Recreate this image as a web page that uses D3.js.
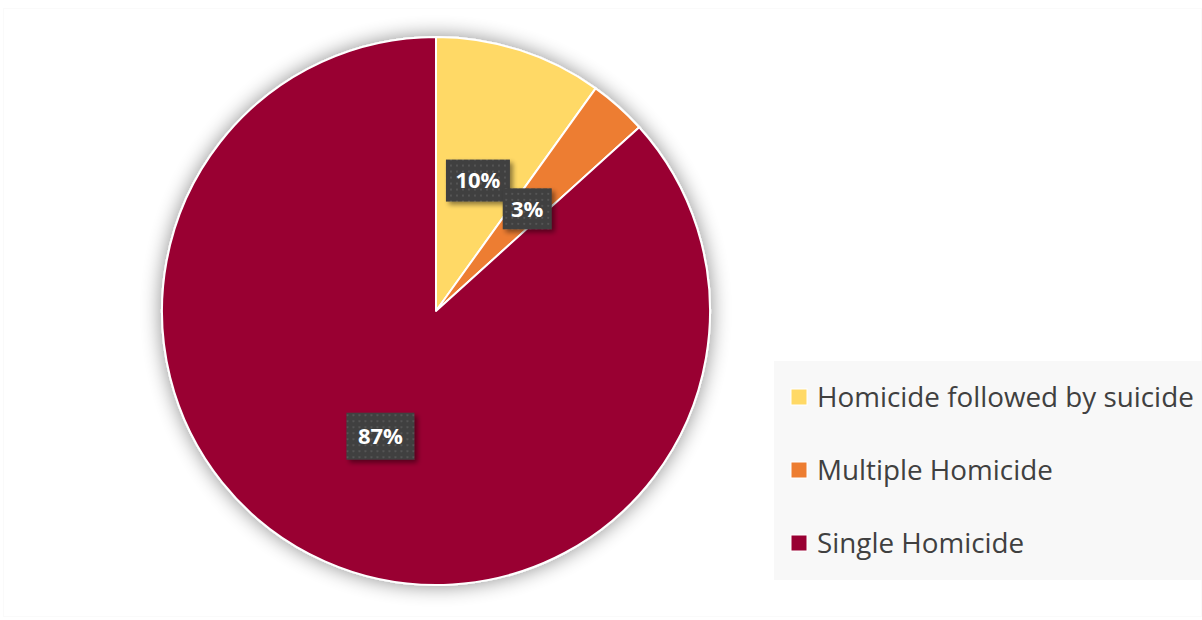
<!DOCTYPE html>
<html>
<head>
<meta charset="utf-8">
<script src="https://cdn.jsdelivr.net/npm/d3@7"></script>
<style>
  html, body { margin: 0; padding: 0; background: #ffffff; }
  svg { display: block; }
</style>
</head>
<body>
<svg id="chart" width="1202" height="620"></svg>
<script>
// Homicide types, share of incidents (percent)
const categories = ["Homicide followed by suicide", "Multiple Homicide", "Single Homicide"];
const shares = [9.9, 3.4, 86.7];
const colors = ["#FFD966", "#ED7D31", "#990033"];

const W = 1202, H = 620;
const cx = 436, cy = 311, R = 274;

const svg = d3.select("#chart");
const defs = svg.append("defs");

// soft glow behind the pie
const glow = defs.append("filter").attr("id", "pieShadow")
  .attr("x", "-20%").attr("y", "-20%").attr("width", "140%").attr("height", "140%");
glow.append("feGaussianBlur").attr("in", "SourceAlpha").attr("stdDeviation", 10).attr("result", "b");
glow.append("feComponentTransfer").attr("in", "b").attr("result", "b2")
  .append("feFuncA").attr("type", "linear").attr("slope", 0.45);
const gm = glow.append("feMerge");
gm.append("feMergeNode").attr("in", "b2");
gm.append("feMergeNode").attr("in", "SourceGraphic");

// drop shadow for the value boxes
const ds = defs.append("filter").attr("id", "boxShadow")
  .attr("x", "-30%").attr("y", "-30%").attr("width", "170%").attr("height", "170%");
ds.append("feGaussianBlur").attr("in", "SourceAlpha").attr("stdDeviation", 2.5).attr("result", "b");
ds.append("feOffset").attr("in", "b").attr("dx", 3).attr("dy", 3).attr("result", "o");
ds.append("feComponentTransfer").attr("in", "o").attr("result", "o2")
  .append("feFuncA").attr("type", "linear").attr("slope", 0.45);
const dm = ds.append("feMerge");
dm.append("feMergeNode").attr("in", "o2");
dm.append("feMergeNode").attr("in", "SourceGraphic");

// dotted texture for the value boxes
const pat = defs.append("pattern").attr("id", "dots")
  .attr("width", 6).attr("height", 6).attr("patternUnits", "userSpaceOnUse");
pat.append("rect").attr("width", 6).attr("height", 6).attr("fill", "#3f3f3f");
pat.append("rect").attr("x", 2).attr("y", 2).attr("width", 2).attr("height", 2).attr("fill", "#555555");

// faint chart area outline
svg.append("rect").attr("x", 3.5).attr("y", 8.5).attr("width", W - 4).attr("height", H - 12)
  .attr("fill", "none").attr("stroke", "#fafafa").attr("stroke-width", 1);

const data = categories.map((c, i) => ({ name: c, value: shares[i], color: colors[i] }));
const total = d3.sum(shares);

const pie = d3.pie().value(d => d.value).sort(null);
const arcs = pie(data);
const arc = d3.arc().innerRadius(0).outerRadius(R);

const g = svg.append("g").attr("transform", `translate(${cx},${cy})`);

g.append("g").attr("filter", "url(#pieShadow)")
  .selectAll("path").data(arcs).join("path")
  .attr("d", arc)
  .attr("fill", d => d.data.color)
  .attr("stroke", "#ffffff")
  .attr("stroke-width", 2)
  .attr("stroke-linejoin", "round");

// value labels at slice centroids
const boxSize = { w: [64, 49, 68], h: [42, 41, 47] };
const lbl = g.selectAll("g.lbl").data(arcs).join("g").attr("class", "lbl")
  .attr("transform", d => `translate(${arc.centroid(d)})`);

lbl.append("rect")
  .attr("x", (d, i) => -boxSize.w[i] / 2)
  .attr("y", (d, i) => -boxSize.h[i] / 2)
  .attr("width", (d, i) => boxSize.w[i])
  .attr("height", (d, i) => boxSize.h[i])
  .attr("fill", "url(#dots)")
  .attr("filter", "url(#boxShadow)");

lbl.append("text")
  .attr("text-anchor", "middle")
  .attr("dy", "0.36em")
  .attr("font-family", "'Open Sans', sans-serif")
  .attr("font-weight", "bold")
  .attr("font-size", 22)
  .attr("fill", "#ffffff")
  .text(d => Math.round(d.data.value / total * 100) + "%");

// legend
const lg = svg.append("g");
lg.append("rect").attr("x", 774).attr("y", 361).attr("width", W - 774).attr("height", 219)
  .attr("fill", "#f8f8f8");

const rowY = d3.scalePoint().domain(categories).range([397, 543]);

const item = lg.selectAll("g.item").data(data).join("g").attr("class", "item")
  .attr("transform", d => `translate(791,${rowY(d.name)})`);

item.append("rect")
  .attr("x", 0).attr("y", -8).attr("width", 16).attr("height", 16)
  .attr("fill", d => d.color)
  .attr("stroke", "#ffffff").attr("stroke-width", 1);

item.append("text")
  .attr("x", 26)
  .attr("dy", "0.36em")
  .attr("font-family", "'Open Sans', sans-serif")
  .attr("font-size", 27.8)
  .attr("fill", "#404040")
  .text(d => d.name);
</script>
</body>
</html>
